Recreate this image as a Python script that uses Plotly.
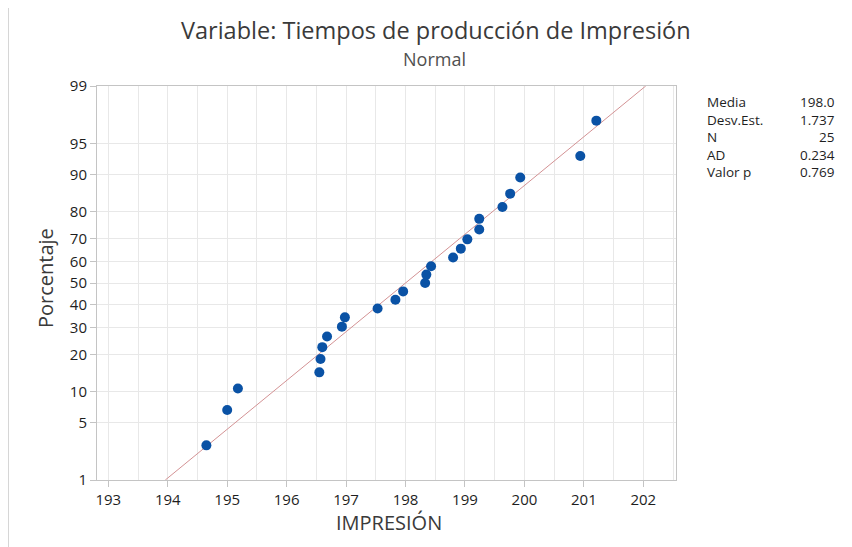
import plotly.graph_objects as go
from statistics import NormalDist

# Data
impresion = [194.65, 195.00, 195.18, 196.55, 196.57, 196.60, 196.68, 196.93, 196.98,
             197.53, 197.83, 197.96, 198.33, 198.35, 198.43, 198.80, 198.93, 199.04,
             199.24, 199.24, 199.63, 199.76, 199.93, 200.94, 201.21]
porcentaje = [2.76, 6.69, 10.63, 14.57, 18.50, 22.44, 26.38, 30.31, 34.25, 38.19,
              42.13, 46.06, 50.00, 53.94, 57.87, 61.81, 65.75, 69.69, 73.62, 77.56,
              81.50, 85.43, 89.37, 93.31, 97.24]
media = 198.0
desv = 1.737
y_ticks = [1, 5, 10, 20, 30, 40, 50, 60, 70, 80, 90, 95, 99]
x_ticks = [193, 194, 195, 196, 197, 198, 199, 200, 201, 202]
stat_labels = ["Media", "Desv.Est.", "N", "AD", "Valor p"]
stat_values = ["198.0", "1.737", "25", "0.234", "0.769"]

nd = NormalDist()
z = lambda p: nd.inv_cdf(p / 100.0)

FONT = "Open Sans"
OFF = 8  # page body margin offset
fig = go.Figure()

# fitted line
line_p = [1, 99]
fig.add_trace(go.Scatter(
    x=[media + desv * z(p) for p in line_p], y=[z(p) for p in line_p],
    mode="lines", line=dict(color="#D39294", width=1), hoverinfo="skip", showlegend=False))

fig.add_trace(go.Scatter(
    x=impresion, y=[z(p) for p in porcentaje], mode="markers",
    marker=dict(color="#0A52A5", size=10, line=dict(width=0)), showlegend=False))

W, H = 852 - OFF, 547 - OFF
L, T = 97 - OFF, 86 - OFF
pw, ph = 579, 394
R = W - L - pw
B = H - T - ph

def px(x):
    return (x - OFF - L) / pw

def py(y):
    return (H - B - (y - OFF)) / ph

fig.update_layout(
    width=W, height=H,
    margin=dict(l=L, r=R, t=T, b=B),
    paper_bgcolor="white", plot_bgcolor="white",
    font=dict(family=FONT, color="#1E1E1E", size=15),
    xaxis=dict(range=[192.81, 202.55], tickvals=x_ticks, ticktext=[str(v) for v in x_ticks],
               showgrid=True, gridcolor="#E8E8E8", gridwidth=1,
               minor=dict(dtick=0.5, tick0=193, showgrid=True, gridcolor="#E8E8E8", gridwidth=1),
               showline=True, linecolor="#C4C4C4", linewidth=1, mirror=True,
               ticks="outside", ticklen=6, tickcolor="#C4C4C4",
               zeroline=False, tickfont=dict(size=15, color="#1E1E1E")),
    yaxis=dict(range=[z(1), z(99)], tickvals=[z(p) for p in y_ticks],
               ticktext=[str(p) for p in y_ticks],
               showgrid=True, gridcolor="#E8E8E8", gridwidth=1,
               showline=True, linecolor="#C4C4C4", linewidth=1, mirror=True,
               ticks="outside", ticklen=6, tickcolor="#C4C4C4",
               zeroline=False, tickfont=dict(size=15, color="#1E1E1E")),
)

# titles
fig.add_annotation(text="Variable: Tiempos de producción de Impresión", xref="paper", yref="paper",
                   x=px(436), y=py(30), showarrow=False, xanchor="center", yanchor="middle",
                   font=dict(size=23.5, color="#3A3A3A", family=FONT))
fig.add_annotation(text="Normal", xref="paper", yref="paper",
                   x=px(434), y=py(59), showarrow=False, xanchor="center", yanchor="middle",
                   font=dict(size=18, color="#505050", family=FONT))
# axis titles
fig.add_annotation(text="IMPRESIÓN", xref="paper", yref="paper",
                   x=px(389), y=py(522), showarrow=False, xanchor="center", yanchor="middle",
                   font=dict(size=20, color="#3A3A3A", family=FONT))
fig.add_annotation(text="Porcentaje", xref="paper", yref="paper", textangle=-90,
                   x=px(45), y=py(278), showarrow=False, xanchor="center", yanchor="middle",
                   font=dict(size=20, color="#3A3A3A", family=FONT))

# stats table (two multi-line columns)
fig.add_annotation(text="<br>".join(stat_labels), xref="paper", yref="paper",
                   x=px(705), y=py(91), showarrow=False, xanchor="left", yanchor="top",
                   align="left", font=dict(size=13.5, color="#1E1E1E", family=FONT))
fig.add_annotation(text="<br>".join(stat_values), xref="paper", yref="paper",
                   x=px(837), y=py(91), showarrow=False, xanchor="right", yanchor="top",
                   align="right", font=dict(size=13.5, color="#1E1E1E", family=FONT))

# outer frame lines
fig.add_shape(type="line", xref="paper", yref="paper", x0=px(8.5), x1=px(8.5), y0=py(7.5), y1=py(560),
              line=dict(color="#D6D6D6", width=1))
fig.add_shape(type="line", xref="paper", yref="paper", x0=px(8.5), x1=px(860), y0=py(7.5), y1=py(7.5),
              line=dict(color="#D6D6D6", width=1))

fig.write_html("out.html")
